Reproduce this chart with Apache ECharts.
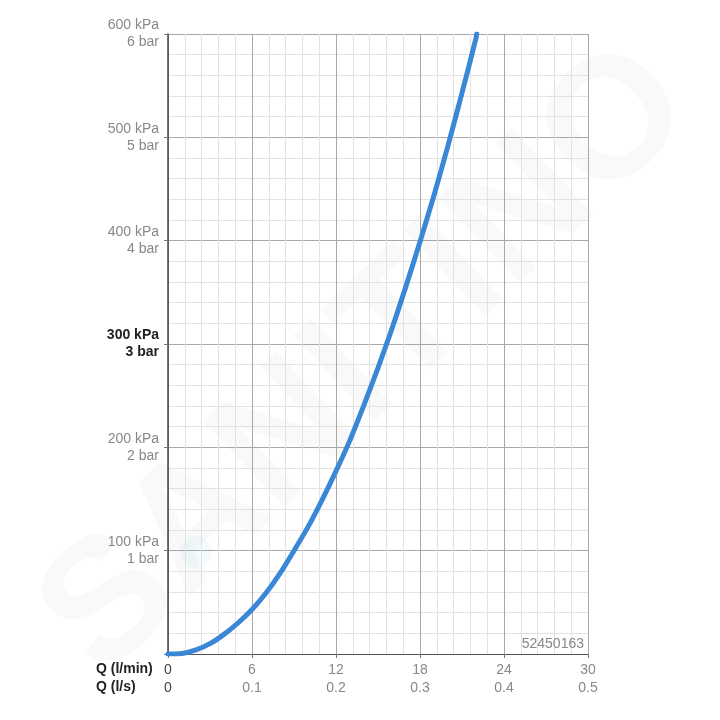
<!DOCTYPE html>
<html><head><meta charset="utf-8">
<script src="https://cdn.jsdelivr.net/npm/echarts@6/dist/echarts.min.js"></script>
<style>html,body{margin:0;padding:0;background:#fff}#c{width:720px;height:720px}</style>
</head><body><div id="c"></div>
<script>
// Flow rate Q in l/min
const flowLmin = [0, 1, 2, 3, 4, 5, 6, 7, 8, 9, 10, 11, 12, 13, 14, 15, 16, 17, 18, 19, 20, 21, 22, 22.05];
// Pressure in kPa
const pressureKpa = [0, 0.5, 4, 10, 19, 30, 43, 59, 78, 100, 123, 149, 177, 207, 241, 277, 315, 356, 399, 444, 492, 543, 596, 600];
// Tick labels
const xTicksLmin = ['0', '6', '12', '18', '24', '30'];
const xTicksLs = ['0', '0.1', '0.2', '0.3', '0.4', '0.5'];
const yTicksKpa = ['0 kPa', '100 kPa', '200 kPa', '300 kPa', '400 kPa', '500 kPa', '600 kPa'];
const yTicksBar = ['0 bar', '1 bar', '2 bar', '3 bar', '4 bar', '5 bar', '6 bar'];
const productCode = '52450163';

const chart = echarts.init(document.getElementById('c'), null, {renderer: 'canvas'});
const font = 'Liberation Sans, Arial, sans-serif';
const option = {
  animation: false,
  backgroundColor: '#fff',
  grid: {left: 168, top: 34, right: 132, bottom: 66, containLabel: false},
  graphic: [
    {type: 'text', z: 0, x: 368, y: 362, rotation: 0.76,
     style: {text: 'SANITINO', font: 'bold 172px ' + font, fill: 'rgba(0,0,0,0.022)', align: 'center', verticalAlign: 'middle'}},
    {type: 'circle', z: 0, shape: {cx: 196, cy: 552, r: 16}, style: {fill: 'rgba(120,200,240,0.08)'}},
    {type: 'text', left: 96, top: 662, style: {text: 'Q (l/min)', font: 'bold 14px ' + font, fill: '#222'}},
    {type: 'text', left: 96, top: 680, style: {text: 'Q (l/s)', font: 'bold 14px ' + font, fill: '#222'}},
    {type: 'text', right: 136, top: 637, z: 10, style: {text: productCode, font: '14px ' + font, fill: '#888'}}
  ],
  xAxis: {
    type: 'value', min: 0, max: 30, interval: 6,
    axisLine: {show: true, onZero: false, lineStyle: {color: '#555', width: 1.2}},
    axisTick: {show: true, length: 4, lineStyle: {color: '#777'}},
    minorTick: {show: false, splitNumber: 5},
    splitLine: {show: true, lineStyle: {color: '#a8a8a8', width: 1}},
    minorSplitLine: {show: true, lineStyle: {color: '#e2e2e2', width: 1}},
    axisLabel: {
      margin: 7, lineHeight: 18, fontFamily: font, fontSize: 14, color: '#888',
      formatter: function (v) {
        const i = Math.round(v / 6);
        if (i === 0) return '{d|' + xTicksLmin[0] + '}\n{d|' + xTicksLs[0] + '}';
        return xTicksLmin[i] + '\n' + xTicksLs[i];
      },
      rich: {d: {color: '#444', fontSize: 14, fontFamily: font, lineHeight: 18}}
    }
  },
  yAxis: {
    type: 'value', min: 0, max: 600, interval: 100,
    axisLine: {show: true, lineStyle: {color: '#444', width: 1.5}},
    axisTick: {show: true, length: 4, lineStyle: {color: '#777'}},
    minorTick: {show: false, splitNumber: 5},
    splitLine: {show: true, lineStyle: {color: '#a8a8a8', width: 1}},
    minorSplitLine: {show: true, lineStyle: {color: '#e2e2e2', width: 1}},
    axisLabel: {
      margin: 9, lineHeight: 17, fontFamily: font, fontSize: 14, color: '#888', align: 'right',
      formatter: function (v) {
        const i = Math.round(v / 100);
        if (i === 0) return '';
        if (i === 3) return '{b|' + yTicksKpa[i] + '}\n{b|' + yTicksBar[i] + '}';
        return yTicksKpa[i] + '\n' + yTicksBar[i];
      },
      rich: {b: {fontWeight: 'bold', color: '#222', fontSize: 14, fontFamily: font, lineHeight: 17, align: 'right'}}
    }
  },
  series: [{
    type: 'line', smooth: 0.3, showSymbol: false, clip: true, z: 5,
    data: flowLmin.map((q, i) => [q, pressureKpa[i]]),
    lineStyle: {color: '#3a87d5', width: 5, cap: 'round'}
  }]
};
chart.setOption(option);
</script></body></html>
